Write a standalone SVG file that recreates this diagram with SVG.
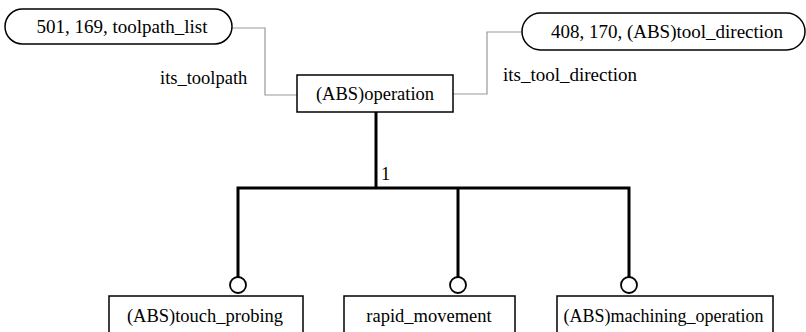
<svg xmlns="http://www.w3.org/2000/svg" width="806" height="332" viewBox="0 0 806 332">
<style>
text{font-family:'Liberation Serif','DejaVu Serif',serif;font-size:18.5px;fill:#000}
.big{font-size:19px}
.sm{font-size:18px}
.box{fill:#fff;stroke:#000;stroke-width:1.5}
.ref{fill:none;stroke:#999;stroke-width:1.2}
.thick{fill:none;stroke:#000;stroke-width:3}
.c{fill:#fff;stroke:#000;stroke-width:1.8}
</style>
<g id="connectors">
<polyline class="ref" points="232,28 265,28 265,95 297,95"/>
<polyline class="ref" points="453,94 487,94 487,32 522,32"/>
<line class="thick" x1="376" y1="112" x2="376" y2="188"/>
<polyline class="thick" points="238,278 238,188 629,188 629,278"/>
<line class="thick" x1="458" y1="188" x2="458" y2="278"/>
<circle class="c" cx="238" cy="285" r="8"/>
<circle class="c" cx="458" cy="285" r="8"/>
<circle class="c" cx="629" cy="285" r="8"/>
<text x="381" y="180">1</text>
<text x="160" y="84">its_toolpath</text>
<text class="big" x="503" y="81">its_tool_direction</text>
</g>
<g id="toolpath_list">
<rect class="box" x="5" y="9" width="227" height="35" rx="17.5"/>
<text class="big" x="122" y="33" text-anchor="middle">501, 169, toolpath_list</text>
</g>
<g id="tool_direction">
<rect class="box" x="522" y="13" width="283" height="37" rx="18.5"/>
<text class="big" x="667" y="38" text-anchor="middle">408, 170, (ABS)tool_direction</text>
</g>
<g id="operation">
<rect class="box" x="297" y="75" width="156" height="37"/>
<text x="375" y="100" text-anchor="middle">(ABS)operation</text>
</g>
<g id="touch_probing">
<rect class="box" x="109" y="296" width="194" height="45"/>
<text x="205" y="322" text-anchor="middle">(ABS)touch_probing</text>
</g>
<g id="rapid_movement">
<rect class="box" x="344" y="296" width="171" height="45"/>
<text x="429" y="322" text-anchor="middle">rapid_movement</text>
</g>
<g id="machining_operation">
<rect class="box" x="557" y="296" width="216" height="45"/>
<text class="sm" x="663.5" y="322" text-anchor="middle">(ABS)machining_operation</text>
</g>
</svg>
